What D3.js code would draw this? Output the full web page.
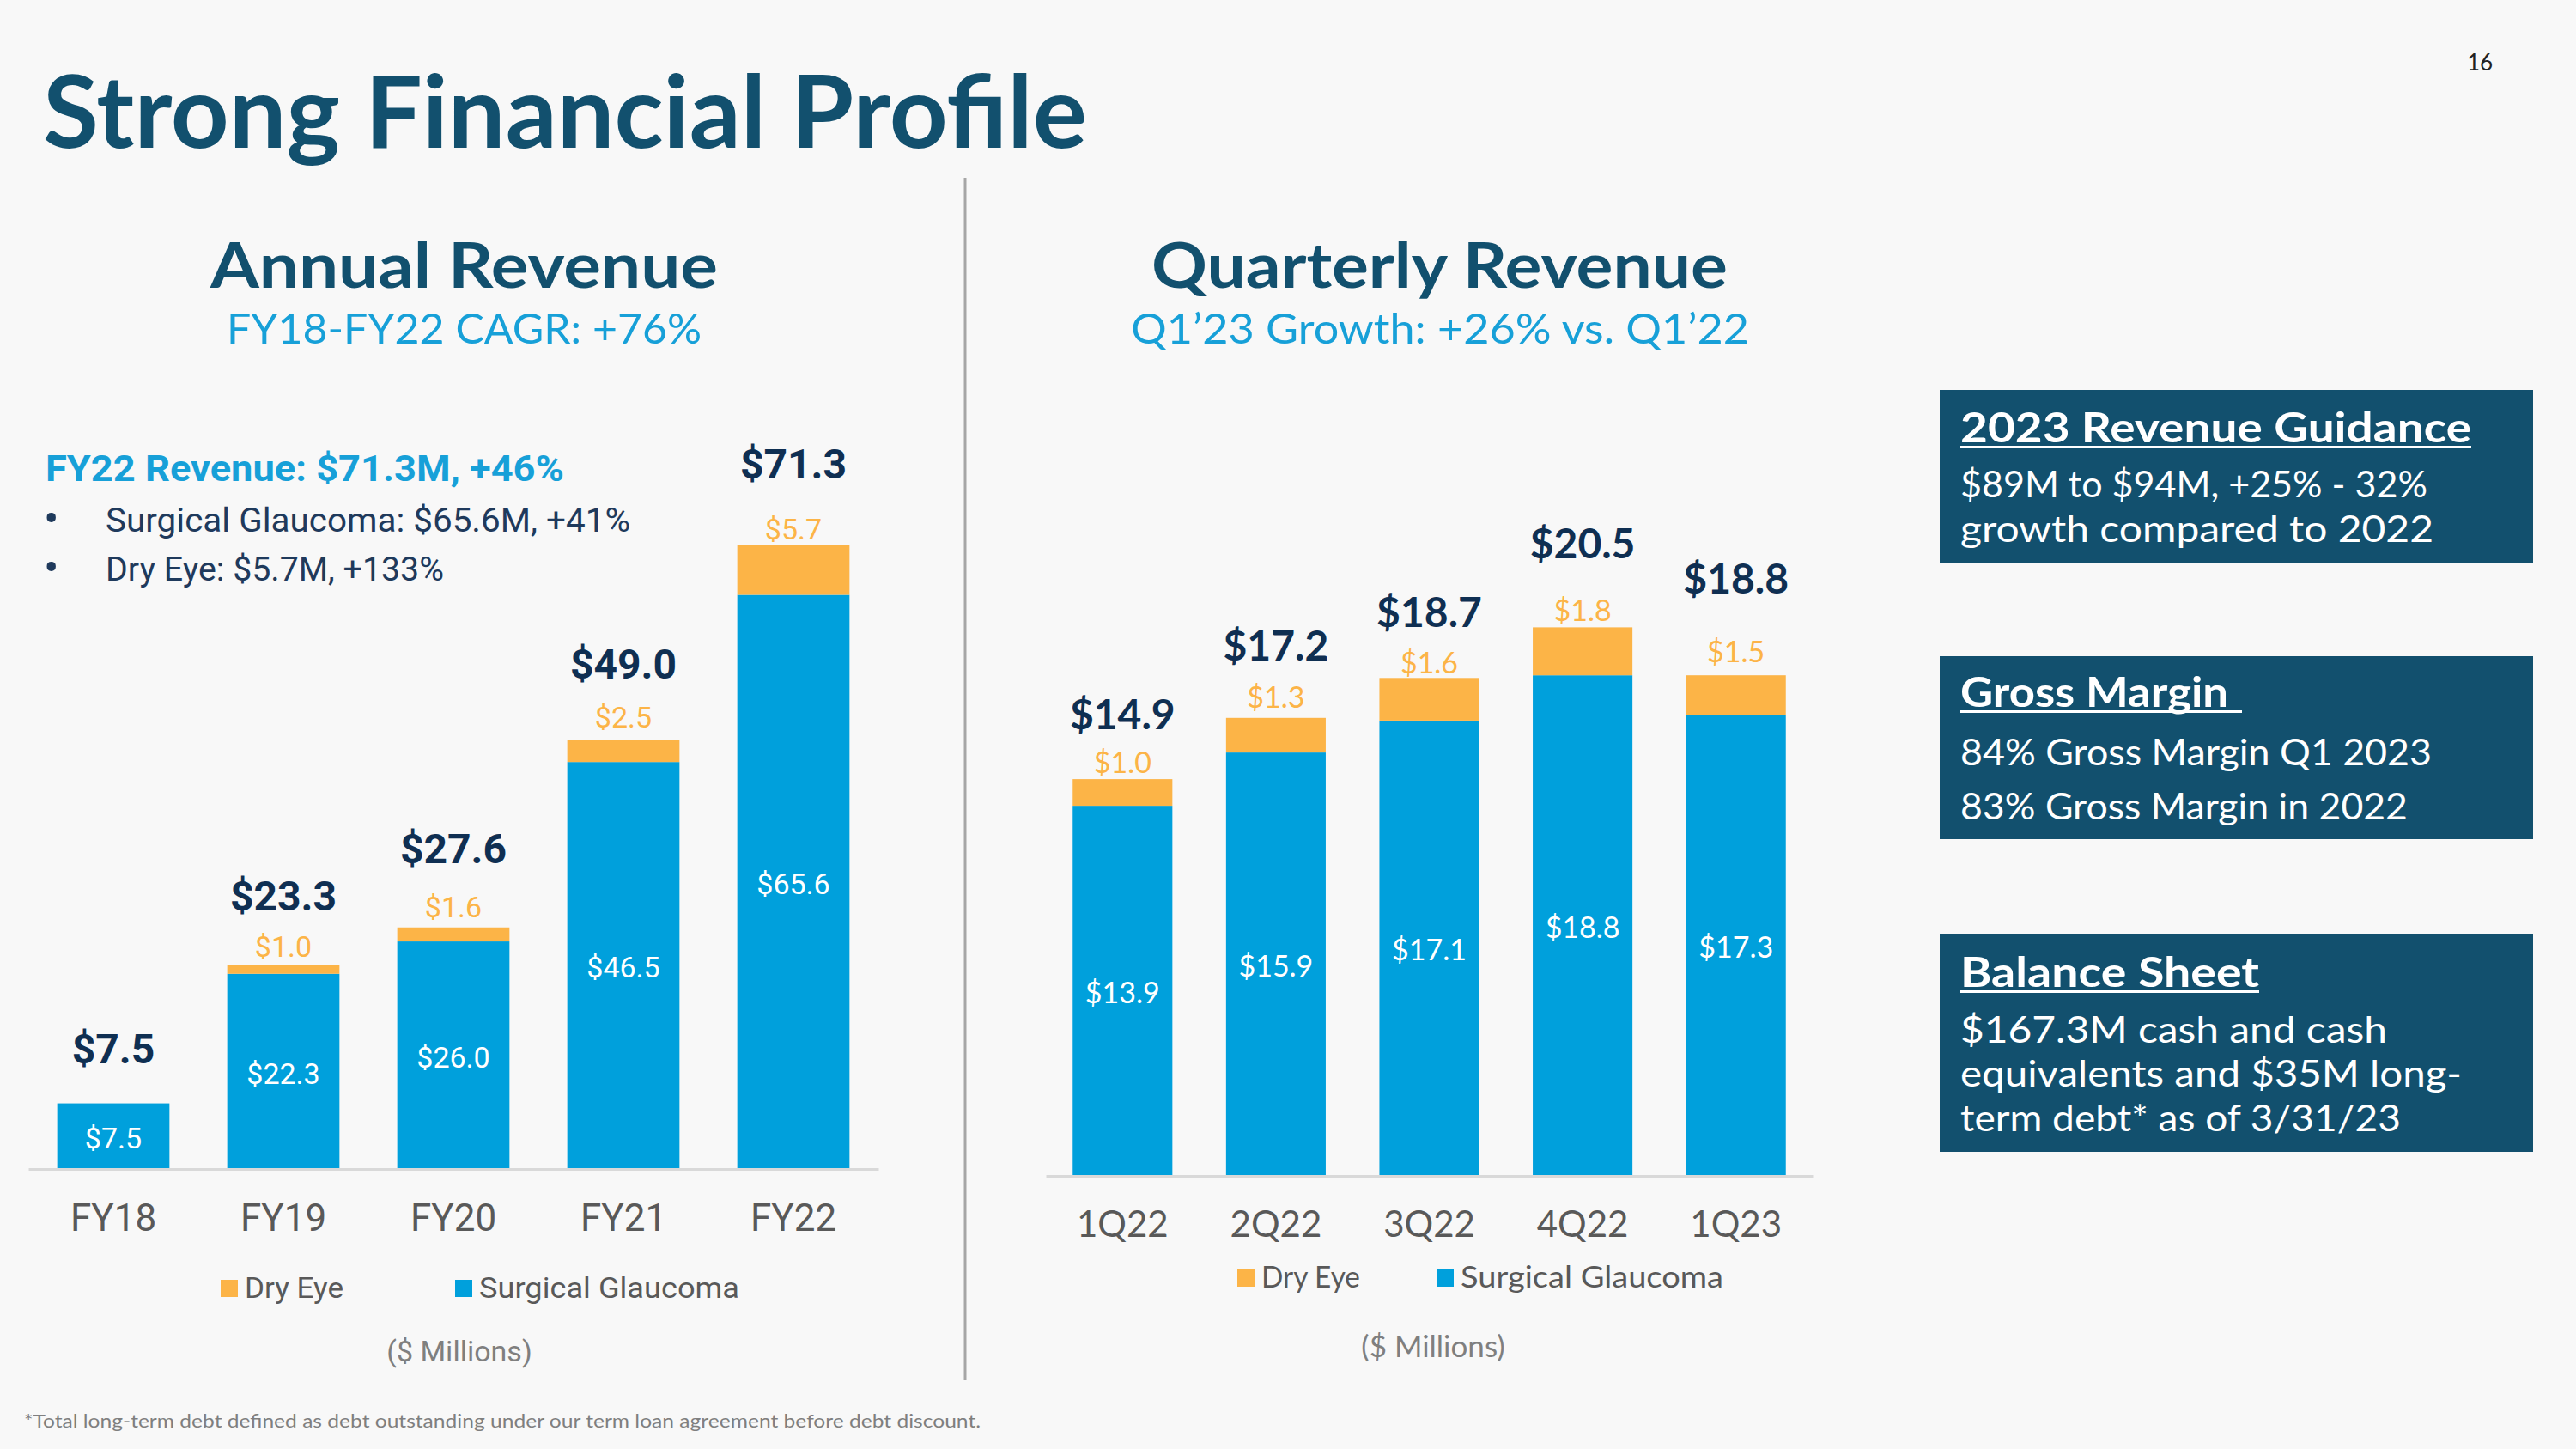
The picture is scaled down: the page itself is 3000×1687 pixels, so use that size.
<!DOCTYPE html>
<html>
<head>
<meta charset="utf-8">
<script src="https://cdn.jsdelivr.net/npm/d3@7"></script>
<style>
  html, body { margin: 0; padding: 0; background: #f8f8f8; }
  svg { display: block; }
</style>
</head>
<body>
<svg id="chart" width="3000" height="1687"></svg>
<script>
// ---------------- DATA ----------------
const annualCategories = ["FY18", "FY19", "FY20", "FY21", "FY22"];
const annualSurgical   = [7.5, 22.3, 26.0, 46.5, 65.6];
const annualDryEye     = [0, 1.0, 1.6, 2.5, 5.7];
const annualTotal      = [7.5, 23.3, 27.6, 49.0, 71.3];

const quarterCategories = ["1Q22", "2Q22", "3Q22", "4Q22", "1Q23"];
const quarterSurgical   = [13.9, 15.9, 17.1, 18.8, 17.3];
const quarterDryEye     = [1.0, 1.3, 1.6, 1.8, 1.5];
const quarterTotal      = [14.9, 17.2, 18.7, 20.5, 18.8];

const seriesNames = ["Dry Eye", "Surgical Glaucoma"];

// ---------------- STYLE ----------------
const C = {
  bg: "#f8f8f8",
  teal: "#12506e",
  lightBlue: "#17a0d8",
  navy: "#0f2f52",
  bulletText: "#1f3a5c",
  blue: "#00a0dc",
  orange: "#fcb447",
  axis: "#d9d9d9",
  axisText: "#595959",
  grey: "#7f7f7f",
  divider: "#a6a6a6"
};

const svg = d3.select("#chart");
svg.append("rect").attr("width", 3000).attr("height", 1687).attr("fill", C.bg);

function txt(g, x, y, s, o) {
  o = o || {};
  const t = g.append("text")
    .attr("x", x).attr("y", y)
    .attr("font-family", o.family || "Lato, 'Open Sans', sans-serif")
    .attr("font-size", o.size || 30)
    .attr("font-weight", o.weight || 400)
    .attr("fill", o.fill || "#000")
    .attr("text-anchor", o.anchor || "start")
    .text(s);
  if (o.len) t.attr("textLength", o.len).attr("lengthAdjust", "spacingAndGlyphs");
  return t;
}

// ---------------- HEADINGS ----------------
txt(svg, 50, 172, "Strong Financial Profile", {size: 117, weight: 700, fill: C.teal, len: 1216});
txt(svg, 2873, 82, "16", {size: 26, fill: "#222"});

svg.append("line").attr("x1", 1124).attr("x2", 1124).attr("y1", 207).attr("y2", 1607)
  .attr("stroke", C.divider).attr("stroke-width", 3);

txt(svg, 245, 335, "Annual Revenue", {size: 73, weight: 700, fill: C.teal, len: 591});
txt(svg, 264, 400, "FY18-FY22 CAGR: +76%", {size: 49, fill: C.lightBlue, len: 553});
txt(svg, 1341, 335, "Quarterly Revenue", {size: 73, weight: 700, fill: C.teal, len: 671});
txt(svg, 1317, 400, "Q1\u201923 Growth: +26% vs. Q1\u201922", {size: 49, fill: C.lightBlue, len: 720});

const RB = "Roboto, 'Liberation Sans', sans-serif";
txt(svg, 53, 560, "FY22 Revenue: $71.3M, +46%", {family: RB, size: 42, weight: 700, fill: C.lightBlue, len: 604});
txt(svg, 51, 622, "\u2022", {family: RB, size: 52, fill: C.bulletText});
txt(svg, 51, 679, "\u2022", {family: RB, size: 52, fill: C.bulletText});
txt(svg, 123, 619, "Surgical Glaucoma: $65.6M, +41%", {family: RB, size: 38, fill: C.bulletText, len: 611});
txt(svg, 123, 676, "Dry Eye: $5.7M, +133%", {family: RB, size: 38, fill: C.bulletText, len: 394});

txt(svg, 28, 1662, "*Total long-term debt defined as debt outstanding under our term loan agreement before debt discount.",
  {family: "Lato, sans-serif", size: 21, fill: C.grey, len: 1114});

// ---------------- CHART BUILDER ----------------
function buildChart(cfg) {
  const rows = cfg.categories.map((c, i) => ({cat: c, surgical: cfg.surgical[i], dryEye: cfg.dryEye[i], total: cfg.total[i], i: i}));
  const stack = d3.stack().keys(["surgical", "dryEye"])(rows);

  const x = d3.scaleBand().domain(cfg.categories).range(cfg.xRange)
    .paddingInner(cfg.padIn).paddingOuter(cfg.padIn / 2);
  const y = d3.scaleLinear().domain(cfg.yDomain).range(cfg.yRange);

  const g = svg.append("g");
  const colors = {surgical: C.blue, dryEye: C.orange};

  stack.forEach(layer => {
    g.append("g").selectAll("rect").data(layer).join("rect")
      .attr("x", d => x(d.data.cat))
      .attr("width", x.bandwidth())
      .attr("y", d => y(d[1]))
      .attr("height", d => y(d[0]) - y(d[1]))
      .attr("fill", colors[layer.key]);
  });

  // axis
  const ax = g.append("g")
    .attr("transform", `translate(0,${cfg.yRange[0]})`)
    .call(d3.axisBottom(x).tickSize(0).tickSizeOuter(0).tickPadding(cfg.tickPad));
  ax.select(".domain").attr("stroke", C.axis).attr("stroke-width", 3);
  ax.selectAll("text")
    .attr("font-family", cfg.font).attr("font-size", cfg.axisSize)
    .attr("fill", C.axisText);

  const cx = d => x(d.cat) + x.bandwidth() / 2;

  // surgical labels (white, centered)
  rows.forEach(d => {
    txt(g, cx(d), (y(0) + y(d.surgical)) / 2, "$" + d.surgical.toFixed(1),
      {family: cfg.font, size: cfg.inSize, fill: "#fff", anchor: "middle"}).attr("dy", "0.42em");
  });
  // dry eye labels
  rows.forEach(d => {
    if (d.dryEye > 0) {
      txt(g, cx(d), y(d.surgical + d.dryEye) - cfg.dryOff[d.i], "$" + d.dryEye.toFixed(1),
        {family: cfg.font, size: cfg.drySize, fill: C.orange, anchor: "middle"});
    }
  });
  // totals
  rows.forEach(d => {
    const top = y(d.surgical + d.dryEye);
    txt(g, cx(d), top - cfg.totOff[d.i], "$" + d.total.toFixed(1),
      {family: cfg.font, size: cfg.totSize, weight: 700, fill: C.navy, anchor: "middle"});
  });

  // legend
  const L = cfg.legend;
  [[C.orange, seriesNames[0], L.x1, L.len1], [C.blue, seriesNames[1], L.x2, L.len2]].forEach(([col, name, lx, len]) => {
    g.append("rect").attr("x", lx).attr("y", L.y).attr("width", 20).attr("height", 20).attr("fill", col);
    txt(g, lx + 28, L.base, name, {family: cfg.font, size: L.size, fill: C.axisText, len: len});
  });
  txt(g, cfg.unit.x, cfg.unit.y, "($ Millions)", {family: cfg.font, size: cfg.unit.size, fill: C.grey, anchor: "middle"});
}

// label placement offsets (layout only, in px above the bar top)
buildChart({
  categories: annualCategories, surgical: annualSurgical, dryEye: annualDryEye, total: annualTotal,
  xRange: [33, 1023], padIn: 0.34,
  yDomain: [0, 80], yRange: [1361, 1361 - 80 * 10.19],
  font: RB, tickPad: 41, axisSize: 44,
  inSize: 34, drySize: 34, totSize: 48,
  dryOff: [12, 10, 12, 15, 6], totOff: [47, 64, 75, 72, 77],
  legend: {x1: 257, x2: 530, y: 1490, base: 1511, size: 34, len1: 115, len2: 303},
  unit: {x: 535, y: 1585, size: 34}
});

buildChart({
  categories: quarterCategories, surgical: quarterSurgical, dryEye: quarterDryEye, total: quarterTotal,
  xRange: [1218, 2111], padIn: 0.35,
  yDomain: [0, 25], yRange: [1369, 1369 - 25 * 31],
  font: "Lato, 'Open Sans', sans-serif", tickPad: 41, axisSize: 42,
  inSize: 34, drySize: 34, totSize: 48,
  dryOff: [7, 12, 5, 7, 15], totOff: [58, 67, 59, 80, 95],
  legend: {x1: 1441, x2: 1673, y: 1478, base: 1499, size: 35, len1: 115, len2: 306},
  unit: {x: 1669, y: 1580, size: 35}
});

// ---------------- INFO BOXES ----------------
const boxes = [
  {y: 454, h: 201, title: "2023 Revenue Guidance", tLen: 595, uEnd: 2878, tBase: 515,
   lines: [["$89M to $94M, +25% - 32%", 579, 544], ["growth compared to 2022", 631, 551]]},
  {y: 764, h: 213, title: "Gross Margin", tLen: 312, uEnd: 2611, tBase: 823,
   lines: [["84% Gross Margin Q1 2023", 891, 549], ["83% Gross Margin in 2022", 954, 521]]},
  {y: 1087, h: 254, title: "Balance Sheet", tLen: 348, uEnd: 2631, tBase: 1149,
   lines: [["$167.3M cash and cash", 1214, 497], ["equivalents and $35M long-", 1265, 584], ["term debt* as of 3/31/23", 1317, 513]]}
];
boxes.forEach(b => {
  svg.append("rect").attr("x", 2259).attr("y", b.y).attr("width", 691).attr("height", b.h).attr("fill", C.teal);
  txt(svg, 2283, b.tBase, b.title, {size: 48, weight: 700, fill: "#fff", len: b.tLen});
  svg.append("rect").attr("x", 2283).attr("y", b.tBase + 4).attr("width", b.uEnd - 2283).attr("height", 3).attr("fill", "#fff");
  b.lines.forEach(([s, yy, len]) => txt(svg, 2283, yy, s, {size: 42, fill: "#fff", len: len}));
});
</script>
</body>
</html>
